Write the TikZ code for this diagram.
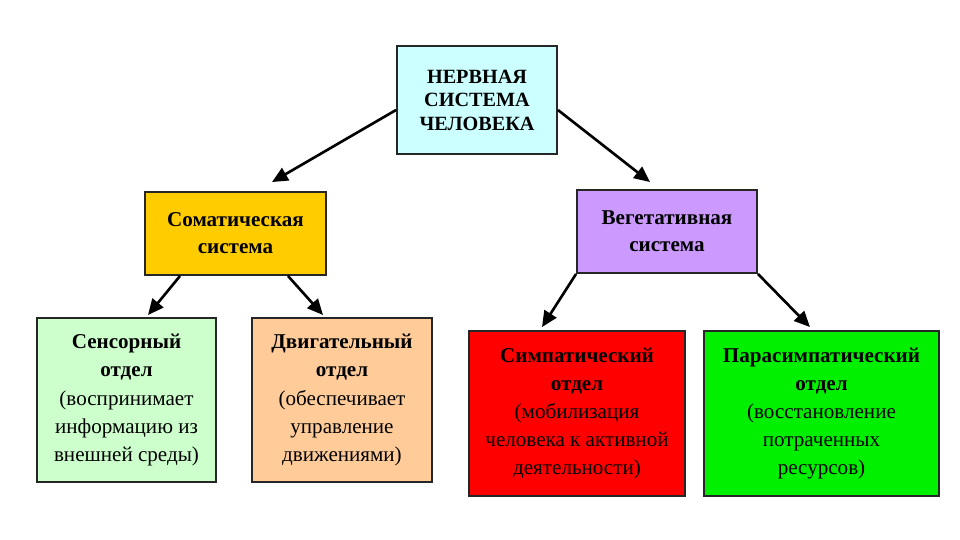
\documentclass[tikz,border=0pt]{standalone}
\usepackage{fontspec}
\setmainfont{Liberation Serif}
\usetikzlibrary{arrows.meta}

\definecolor{topcol}{HTML}{CCFFFF}
\definecolor{somcol}{HTML}{FFCC00}
\definecolor{vegcol}{HTML}{CC99FF}
\definecolor{sencol}{HTML}{CCFFCC}
\definecolor{motcol}{HTML}{FFCC99}
\definecolor{symcol}{HTML}{FF0000}
\definecolor{parcol}{HTML}{00F000}

\begin{document}
\begin{tikzpicture}[x=0.02cm,y=-0.02cm,
    box/.style={draw=black!85,line width=1.1pt,align=center,inner sep=0pt,
      font=\fontsize{12}{16}\selectfont},
    arr/.style={line width=1.5pt,-{Triangle[length=9pt,width=8pt]}}]
  \useasboundingbox (0,0) rectangle (960,540);
  \fill[white] (0,0) rectangle (960,540);

  \node[box,fill=topcol,minimum width=3.2cm,minimum height=2.16cm,
    font=\bfseries\fontsize{11.5}{13.4}\selectfont] (top) at (477,100)
    {НЕРВНАЯ\\СИСТЕМА\\ЧЕЛОВЕКА};
  \node[box,fill=somcol,minimum width=3.62cm,minimum height=1.66cm,
    font=\bfseries\fontsize{12}{15.5}\selectfont] (somatic) at (235.5,233.5)
    {Соматическая\\система};
  \node[box,fill=vegcol,minimum width=3.6cm,minimum height=1.66cm,
    font=\bfseries\fontsize{12}{15.5}\selectfont] (veget) at (667,231.5)
    {Вегетативная\\система};

  \node[box,fill=sencol,minimum width=3.58cm,minimum height=3.28cm] (sensor) at (126.5,400)
    {\textbf{Сенсорный}\\\textbf{отдел}\\(воспринимает\\информацию из\\внешней среды)};
  \node[box,fill=motcol,minimum width=3.6cm,minimum height=3.28cm] (motor) at (342,400)
    {\textbf{Двигательный}\\\textbf{отдел}\\(обеспечивает\\управление\\движениями)};
  \node[box,fill=symcol,minimum width=4.32cm,minimum height=3.3cm] (symp) at (577,413.5)
    {\textbf{Симпатический}\\\textbf{отдел}\\(мобилизация\\человека к активной\\деятельности)};
  \node[box,fill=parcol,minimum width=4.7cm,minimum height=3.3cm] (parasymp) at (821.5,413.5)
    {\textbf{Парасимпатический}\\\textbf{отдел}\\(восстановление\\потраченных\\ресурсов)};

  % arrows
  \draw[arr] ([yshift=-0.2cm]top.west) -- ([xshift=0.73cm,yshift=0.18cm]somatic.north);
  \draw[arr] ([yshift=-0.2cm]top.east) -- ([xshift=-0.34cm,yshift=0.14cm]veget.north);
  \draw[arr] ([xshift=-1.11cm]somatic.south) -- ([xshift=0.43cm,yshift=0.04cm]sensor.north);
  \draw[arr] ([xshift=1.05cm]somatic.south) -- ([xshift=-0.38cm,yshift=0.04cm]motor.north);
  \draw[arr] (veget.south west) -- ([xshift=-0.7cm,yshift=0.06cm]symp.north);
  \draw[arr] (veget.south east) -- ([xshift=-0.23cm,yshift=0.06cm]parasymp.north);
\end{tikzpicture}
\end{document}
